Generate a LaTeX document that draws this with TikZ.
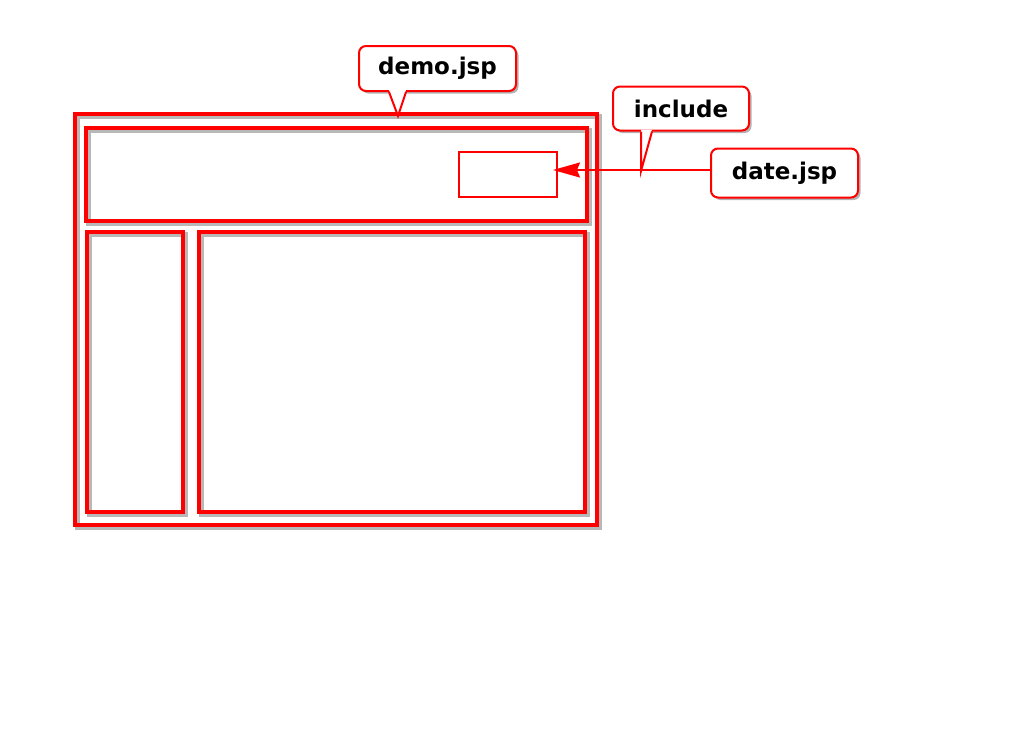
\documentclass[tikz,border=0pt]{standalone}
\usepackage{fontspec}
\setmainfont{DejaVu Sans}
\usetikzlibrary{shadows}
\usetikzlibrary{arrows.meta}
\usetikzlibrary{calc}

\begin{document}
\begin{tikzpicture}[x=1pt,y=-1pt]

\tikzstyle{frameBox}=[rectangle,inner sep=0pt,outer sep=0pt,draw=red,line width=3.5pt,drop shadow={fill=none,draw=black,opacity=0.28,line width=5pt,shadow xshift=2.5pt,shadow yshift=-2.5pt}];
\tikzstyle{pageBox}=[rectangle,inner sep=0pt,outer sep=0pt,draw=red,line width=2pt,fill=white];
\tikzstyle{labelBox}=[rectangle,rounded corners=7pt,inner sep=0pt,draw=red,line width=2pt,fill=white,font=\fontsize{23}{28}\selectfont\bfseries,drop shadow={fill=black,opacity=0.3,shadow xshift=2.5pt,shadow yshift=-2.5pt}];
\tikzstyle{labelTip}=[draw=red,line width=2pt,line join=miter];
\tikzstyle{includeArrow}=[draw=red,line width=2pt,-{Stealth[length=27pt,width=15pt,inset=3pt]}];

\useasboundingbox (0,0) rectangle (1024,728);

% page layout of demo.jsp
\node [frameBox,minimum width=522pt,minimum height=411pt] (outer) at (336,319.5) {};
\node [frameBox,minimum width=501pt,minimum height=93pt] (header) at (336.5,174.5) {};
\node [frameBox,minimum width=96pt,minimum height=280pt] (menu) at (135,372) {};
\node [frameBox,minimum width=386pt,minimum height=280pt] (content) at (392,372) {};

% slot for the included page
\node [pageBox,minimum width=98pt,minimum height=45pt] (slot) at (508,174.5) {};

% labels
\node [labelBox,minimum width=157pt,minimum height=45pt] (demo) at (437.5,68.5) {demo.jsp};
\coordinate (demoTip) at (398,116);
\fill [white] ($(demo.south west)+(31,-2)$) -- (demoTip) -- ($(demo.south west)+(48,-2)$) -- cycle;
\draw [labelTip] ($(demo.south west)+(31,0)$) -- (demoTip) -- ($(demo.south west)+(48,0)$);

\node [labelBox,minimum width=147pt,minimum height=49pt] (date) at (784.5,173) {date.jsp};

\draw [includeArrow] ($(date.west)+(0,-3)$) -- ($(date.west -| slot.east)+(-4,-3)$);

\node [labelBox,minimum width=136pt,minimum height=44pt] (include) at (681,108.5) {include};
\coordinate (includeTip) at (641,171);
\fill [white] ($(include.south west)+(29,-2)$) -- (includeTip) -- ($(include.south west)+(40,-2)$) -- cycle;
\draw [labelTip] ($(include.south west)+(29,0)$) -- (includeTip) -- ($(include.south west)+(40,0)$);

\end{tikzpicture}
\end{document}
